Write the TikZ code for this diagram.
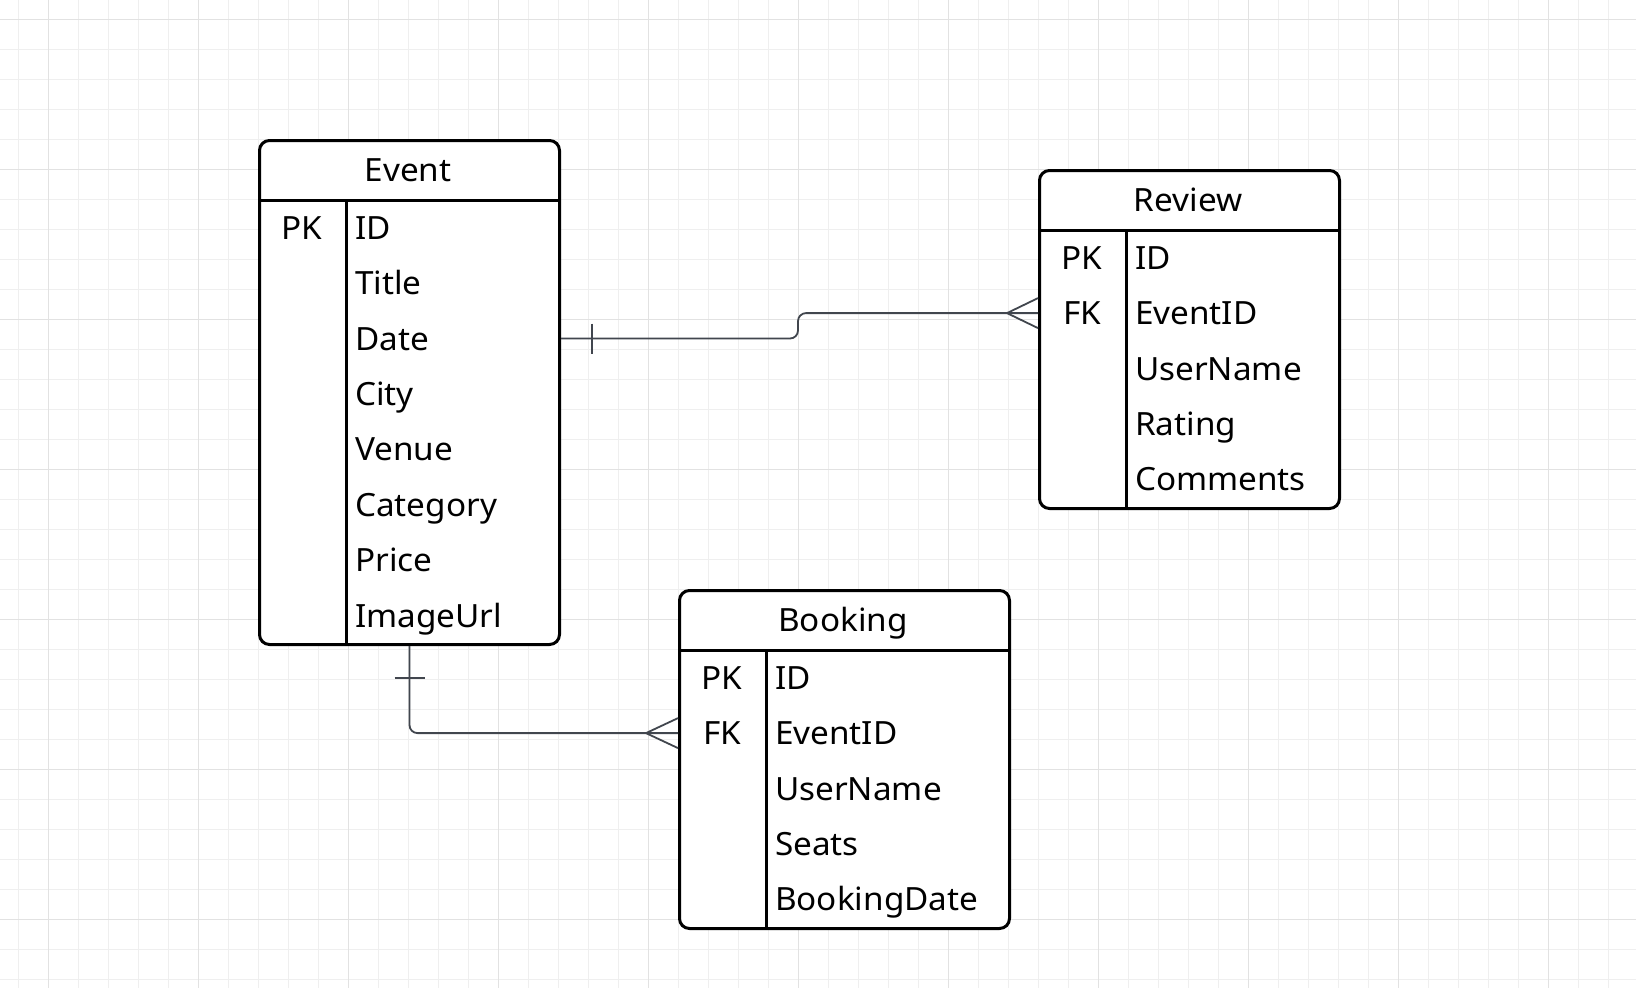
\documentclass[tikz,border=0pt]{standalone}
\usepackage{fontspec}
\setmainfont[FakeStretch=1.04]{Noto Sans}
\usetikzlibrary{calc}

\definecolor{gridminor}{HTML}{EFEFEF}
\definecolor{gridmajor}{HTML}{E2E2E2}
\definecolor{linkgray}{HTML}{41464E}

\begin{document}
\begin{tikzpicture}[
        x=1pt, y=-1pt,
        tablebox/.style={draw=black, fill=white, line width=3pt, rounded corners=10pt, inner sep=0pt},
        tableline/.style={black, line width=3pt},
        headtext/.style={font=\fontsize{32}{38}\selectfont, inner sep=0pt, text height=23pt, text depth=0pt},
        fieldtext/.style={headtext, anchor=west},
        relation/.style={linkgray, line width=1.8pt, rounded corners=8pt},
        endline/.style={linkgray, line width=1.8pt}
    ]

    \useasboundingbox (0,0) rectangle (1636,988);
    \fill[white] (0,0) rectangle (1636,988);

    \draw[gridminor, line width=1pt]
    \foreach \x in {18, 48, ..., 1636} {
            (\x, 0) -- (\x, 988)
        }
    \foreach \y in {19, 49, ..., 988} {
            (0, \y) -- (1636, \y)
        };
    \draw[gridmajor, line width=1pt]
    \foreach \x in {48, 198, ..., 1636} {
            (\x, 0) -- (\x, 988)
        }
    \foreach \y in {19, 169, ..., 988} {
            (0, \y) -- (1636, \y)
        };

    \node[tablebox, anchor=north west, minimum width=300pt, minimum height=504pt] (Event) at (258, 139) {};
    \draw[tableline] (258, 200) -- (558, 200);
    \draw[tableline] (346, 200) -- (346, 643);
    \node[headtext] (EventHead) at (408, 169.5) {Event};
    \foreach \f [count=\i] in {ID,Title,Date,City,Venue,Category,Price,ImageUrl} {
            \node[fieldtext] (Event\i) at (355, 172.3 + 55.4*\i) {\f};
        }
    \node[headtext] (EventPK) at (302, 227.7) {PK};

    \node[tablebox, anchor=north west, minimum width=300pt, minimum height=338pt] (Review) at (1038, 169) {};
    \draw[tableline] (1038, 230) -- (1338, 230);
    \draw[tableline] (1126, 230) -- (1126, 507);
    \node[headtext] (ReviewHead) at (1188, 199.5) {Review};
    \foreach \f [count=\i] in {ID,EventID,UserName,Rating,Comments} {
            \node[fieldtext] (Review\i) at (1135, 202.3 + 55.4*\i) {\f};
        }
    \node[headtext] (ReviewPK) at (1082, 257.7) {PK};
    \node[headtext] (ReviewFK) at (1082, 313.1) {FK};

    \node[tablebox, anchor=north west, minimum width=330pt, minimum height=338pt] (Booking) at (678, 589) {};
    \draw[tableline] (678, 650) -- (1008, 650);
    \draw[tableline] (766, 650) -- (766, 927);
    \node[headtext] (BookingHead) at (843, 619.5) {Booking};
    \foreach \f [count=\i] in {ID,EventID,UserName,Seats,BookingDate} {
            \node[fieldtext] (Booking\i) at (775, 622.3 + 55.4*\i) {\f};
        }
    \node[headtext] (BookingPK) at (722, 677.7) {PK};
    \node[headtext] (BookingFK) at (722, 733.1) {FK};

    \coordinate (Step) at (798, 0);
    \draw[relation] (Event.east |- Event3) -- (Step |- Event3) -- (Step |- Review2) -- (Review.west |- Review2);
    \draw[endline] ($(Event.east |- Event3) + (31, -15)$) -- ++(0, 30);
    \coordinate (ReviewFoot) at ($(Review.west |- Review2) + (-31, 0)$);
    \draw[endline] ($(Review.west |- Review2) + (0, -15)$) -- (ReviewFoot) -- ($(Review.west |- Review2) + (0, 15)$);

    \draw[relation] (Event.south) -- (Event.south |- Booking2) -- (Booking.west |- Booking2);
    \draw[endline] ($(Event.south) + (-15, 32)$) -- ++(30, 0);
    \coordinate (BookingFoot) at ($(Booking.west |- Booking2) + (-32, 0)$);
    \draw[endline] ($(Booking.west |- Booking2) + (0, -15)$) -- (BookingFoot) -- ($(Booking.west |- Booking2) + (0, 15)$);

\end{tikzpicture}
\end{document}
